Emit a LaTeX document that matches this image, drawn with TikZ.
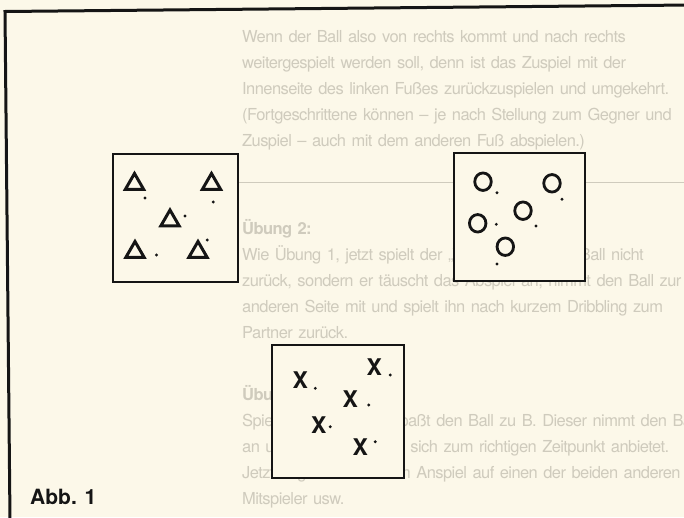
\documentclass[tikz,border=0pt]{standalone}
\usepackage{fontspec}
\setmainfont{TeX Gyre Heros}
\newfontfamily\ghostfont[LetterSpace=-3.5]{TeX Gyre Heros}
\usetikzlibrary{shapes.geometric}
\definecolor{bg}{HTML}{FCF8E9}
\definecolor{ghost}{HTML}{CFCBBD}
\definecolor{ink}{HTML}{151515}
\newcommand{\gl}[1]{\makebox[450pt][s]{#1}\\}
\tikzset{
  ghosttext/.style={anchor=north west, inner sep=0pt, text width=450pt, align=left, text=ghost,
     font=\ghostfont\fontsize{16.5}{26}\selectfont},
  panel/.style={draw=ink, line width=2.2pt, fill=bg},
  tri/.style={regular polygon, regular polygon sides=3, draw=ink, line width=3pt, minimum size=21pt, inner sep=0pt},
  ring/.style={ellipse, draw=ink, line width=2.8pt, minimum width=16.5pt, minimum height=17.5pt, inner sep=0pt},
  cross/.style={inner sep=0pt, text=ink, font=\fontsize{23}{23}\selectfont\bfseries},
  pdot/.style={circle, fill=ink, inner sep=0pt, minimum size=3.2pt},
}
\begin{document}
\begin{tikzpicture}[x=1pt,y=-1pt]
\fill[bg] (0,0) rectangle (684,517);
\useasboundingbox (0,0) rectangle (684,517);
\begin{scope}
\clip (0,0) rectangle (684,517);
% faint show-through text of the page
\node[ghosttext] (g1) at (242,30) {\gl{Wenn der Ball also von rechts kommt und nach rechts}
\gl{weitergespielt werden soll, denn ist das Zuspiel mit der}
\gl{Innenseite des linken Fußes zurückzuspielen und umgekehrt.}
\gl{(Fortgeschrittene können – je nach Stellung zum Gegner und}
Zuspiel – auch mit dem anderen Fuß abspielen.)};
\draw[ghost, line width=1pt] (237,182) -- (684,182);
\node[ghosttext] (g2) at (242,219) {\textbf{Übung 2:}\\
\gl{Wie Übung 1, jetzt spielt der „Wandspieler“ den Ball nicht}
\gl{zurück, sondern er täuscht das Abspiel an, nimmt den Ball zur}
\gl{anderen Seite mit und spielt ihn nach kurzem Dribbling zum}
Partner zurück.};
\node[ghosttext] (g3) at (242,385) {\textbf{Übung 3:}\\
\gl{Spieler A dribbelt und paßt den Ball zu B. Dieser nimmt den Ball}
\gl{an und spielt zu C, der sich zum richtigen Zeitpunkt anbietet.}
\gl{Jetzt beginnt C mit dem Anspiel auf einen der beiden anderen}
Mitspieler usw.};
\end{scope}
% outer frame
\coordinate (fb) at (10,520);
\coordinate (fc) at (5,11.5);
\coordinate (fr) at (690,5);
\draw[ink, line width=3pt, line join=miter] (fb) -- (fc) -- (fr);
% panels
\node[panel, minimum width=125pt, minimum height=128pt, anchor=north west] (pt) at (112,153) {};
\node[panel, minimum width=131pt, minimum height=128pt, anchor=north west] (pc) at (453,151.5) {};
\node[panel, minimum width=132pt, minimum height=133pt, anchor=north west] (px) at (270.5,344) {};
% triangles
\node[tri] (t1) at (134.5,184) {};
\node[tri] (t2) at (211.5,184) {};
\node[tri] (t3) at (170,220.5) {};
\node[tri] (t4) at (135,252) {};
\node[tri] (t5) at (198,252) {};
\node[pdot] (dt1) at (145,198) {};
\node[pdot] (dt2) at (213.3,202) {};
\node[pdot] (dt3) at (185,216) {};
\node[pdot] (dt4) at (156.5,255) {};
\node[pdot] (dt5) at (207.3,240) {};
% circles
\node[ring] (c1) at (483,181.7) {};
\node[ring] (c2) at (552,183.3) {};
\node[ring] (c3) at (523,210.7) {};
\node[ring] (c4) at (477.7,223.3) {};
\node[ring] (c5) at (505.3,246.7) {};
\node[pdot] (dc1) at (497,192.7) {};
\node[pdot] (dc2) at (562,199.3) {};
\node[pdot] (dc3) at (536,226) {};
\node[pdot] (dc4) at (496.3,224.3) {};
\node[pdot] (dc5) at (497,264) {};
% crosses
\node[cross] (x1) at (300.3,380) {X};
\node[cross] (x2) at (374.3,367.3) {X};
\node[cross] (x3) at (350.3,399.3) {X};
\node[cross] (x4) at (318.7,425) {X};
\node[cross] (x5) at (360.3,446.7) {X};
\node[pdot] (dx1) at (315.3,388.3) {};
\node[pdot] (dx2) at (390.3,375) {};
\node[pdot] (dx3) at (368.7,405) {};
\node[pdot] (dx4) at (330.3,426.7) {};
\node[pdot] (dx5) at (375.3,441.7) {};
% caption
\node[anchor=west, inner sep=0pt, text=ink, font=\fontsize{21}{21}\selectfont\bfseries] (cap) at (30,497) {Abb. 1};
\end{tikzpicture}
\end{document}
